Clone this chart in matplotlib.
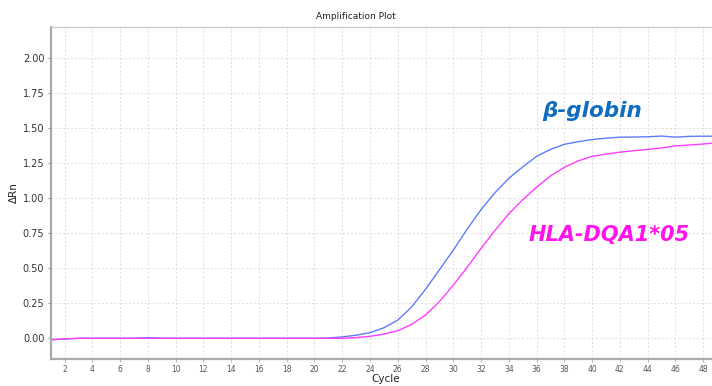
import matplotlib
matplotlib.use("Agg")
import matplotlib.pyplot as plt

cycles = list(range(1, 51))
beta_globin = [-0.010, -0.005, 0.000, 0.000, 0.000, 0.000, 0.000, 0.005, 0.000, 0.000,
               0.000, 0.000, 0.000, 0.000, 0.000, 0.000, 0.000, 0.000, 0.000, 0.000,
               0.002, 0.010, 0.022, 0.040, 0.075, 0.130, 0.224, 0.350, 0.490, 0.630,
               0.780, 0.920, 1.040, 1.143, 1.225, 1.300, 1.350, 1.386, 1.405, 1.420,
               1.430, 1.437, 1.438, 1.440, 1.445, 1.437, 1.443, 1.444, 1.444, 1.444]
hla_dqa1 = [-0.010, -0.005, 0.000, 0.000, 0.000, 0.000, 0.000, 0.000, 0.000, 0.000,
            0.000, 0.000, 0.000, 0.000, 0.000, 0.000, 0.000, 0.000, 0.000, 0.000,
            0.000, 0.000, 0.005, 0.014, 0.030, 0.054, 0.100, 0.166, 0.262, 0.380,
            0.507, 0.643, 0.770, 0.890, 0.990, 1.080, 1.160, 1.222, 1.268, 1.300,
            1.316, 1.330, 1.340, 1.350, 1.360, 1.375, 1.381, 1.388, 1.398, 1.405]
x_ticks = list(range(2, 50, 2))
y_ticks = [0.0, 0.25, 0.5, 0.75, 1.0, 1.25, 1.5, 1.75, 2.0]

fig = plt.figure(figsize=(7.12, 3.86), dpi=100)
ax = fig.add_axes([0.0711, 0.0699, 0.94, 0.8601])

ax.plot(cycles, beta_globin, color="#5b7cfb", lw=1.0)
ax.plot(cycles, hla_dqa1, color="#ff3cff", lw=1.0)

ax.set_xlim(1, 49.2)
ax.set_ylim(-0.148, 2.224)
ax.set_xticks(x_ticks)
ax.set_yticks(y_ticks)
ax.set_yticklabels([f"{v:.2f}" for v in y_ticks], fontsize=7, color="#333333")
ax.set_xticklabels([str(v) for v in x_ticks], fontsize=5.5, color="#555555")
ax.tick_params(axis="y", length=2.5, width=0.8, color="#999999", pad=2)
ax.tick_params(axis="x", length=2.5, width=0.8, color="#bbbbbb", pad=2)

ax.grid(True, color="#dcdcdc", linestyle=(0, (2, 2)), linewidth=0.7)
ax.set_axisbelow(True)

for s in ["left", "bottom"]:
    ax.spines[s].set_color("#aaaaaa")
    ax.spines[s].set_linewidth(1.6)
ax.spines["top"].set_color("#cccccc")
ax.spines["top"].set_linewidth(1.0)
ax.spines["right"].set_visible(False)

ax.set_xlabel("Cycle", fontsize=7.5, color="#222222", labelpad=0)
ax.set_ylabel("ΔRn", fontsize=7.5, color="#222222", labelpad=3)
fig.text(0.5, 0.958, "Amplification Plot", ha="center", va="center", fontsize=6.5, color="#222222")

ax.text(40.0, 1.625, "β-globin", color="#0f6cbf", fontsize=15.5, fontweight="bold",
        fontstyle="italic", ha="center", va="center", family="DejaVu Sans")
ax.text(41.2, 0.735, "HLA-DQA1*05", color="#ff14ee", fontsize=15, fontweight="bold",
        fontstyle="italic", ha="center", va="center", family="DejaVu Sans")

fig.savefig("out.png", dpi=100)
